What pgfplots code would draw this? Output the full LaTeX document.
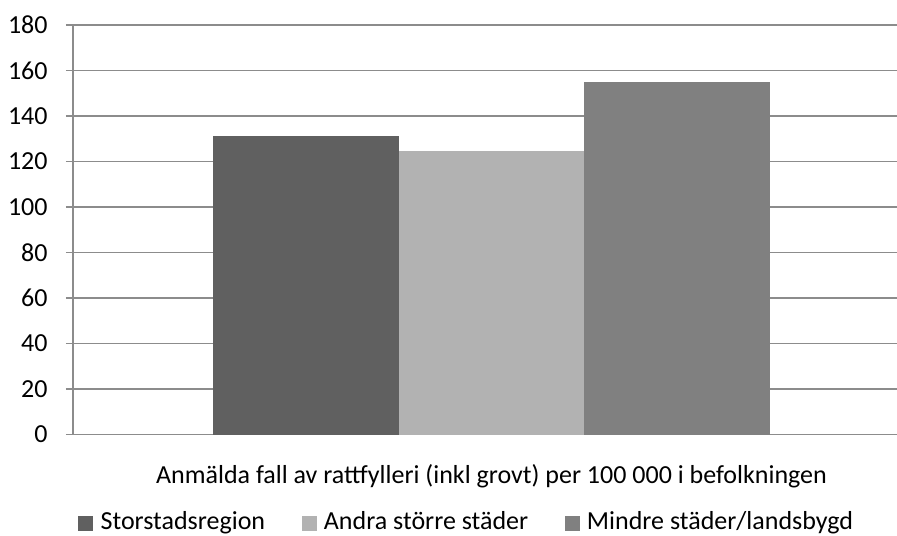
\documentclass[border=0pt]{standalone}
\usepackage{fontspec}
\setmainfont{Carlito}
\usepackage{pgfplots}
\pgfplotsset{compat=1.18}
\definecolor{cA}{HTML}{606060}
\definecolor{cB}{HTML}{B2B2B2}
\definecolor{cC}{HTML}{808080}
\definecolor{gridc}{HTML}{8C8C8C}
\begin{document}
\fontsize{13}{15.6}\selectfont
\begin{tikzpicture}
\useasboundingbox (0,0) rectangle (448.5pt,267.5pt);
\begin{axis}[
  at={(36.5pt,50.25pt)}, anchor=south west,
  scale only axis, width=418.5pt, height=204.75pt,
  xmin=-1, xmax=1, ymin=0, ymax=180,
  ytick={0,20,...,180},
  ymajorgrids, grid style={gridc, line width=0.7pt},
  axis x line*=bottom, axis y line*=left,
  axis line style={gridc, line width=0.7pt},
  tick align=outside, major tick length=3.5pt,
  tick style={gridc, line width=0.7pt},
  ybar, bar width=0.4437,
  xtick={0}, xticklabels={Anmälda fall av rattfylleri (inkl grovt) per 100 000 i befolkningen},
  x tick style={draw=none},
  extra x ticks={-1}, extra x tick labels={}, extra x tick style={tick style={draw=gridc}},
  xticklabel style={anchor=base, yshift=-20.75pt},
  yticklabel style={anchor=east, xshift=-9pt, inner sep=0pt},
  /pgf/number format/assume math mode=true,
  legend style={at={(0.4705,-0.2137)}, anchor=center, draw=none, fill=none,
    legend columns=3, nodes={inner sep=1.2pt},
    /tikz/every odd column/.append style={column sep=2.5pt},
    /tikz/every even column/.append style={column sep=17pt},
    font=\fontsize{13}{15.6}\selectfont},
  legend image code/.code={\fill[#1] (0pt,-4.5pt) rectangle (7.5pt,3pt);},
]
\addplot[fill=cA, draw=none, bar shift=-0.4437] coordinates {(0,131.2)};
\addplot[fill=cB, draw=none, bar shift=0] coordinates {(0,124.6)};
\addplot[fill=cC, draw=none, bar shift=0.4437] coordinates {(0,155.0)};
\legend{Storstadsregion, Andra större städer, Mindre städer/landsbygd}
\end{axis}
\end{tikzpicture}
\end{document}
